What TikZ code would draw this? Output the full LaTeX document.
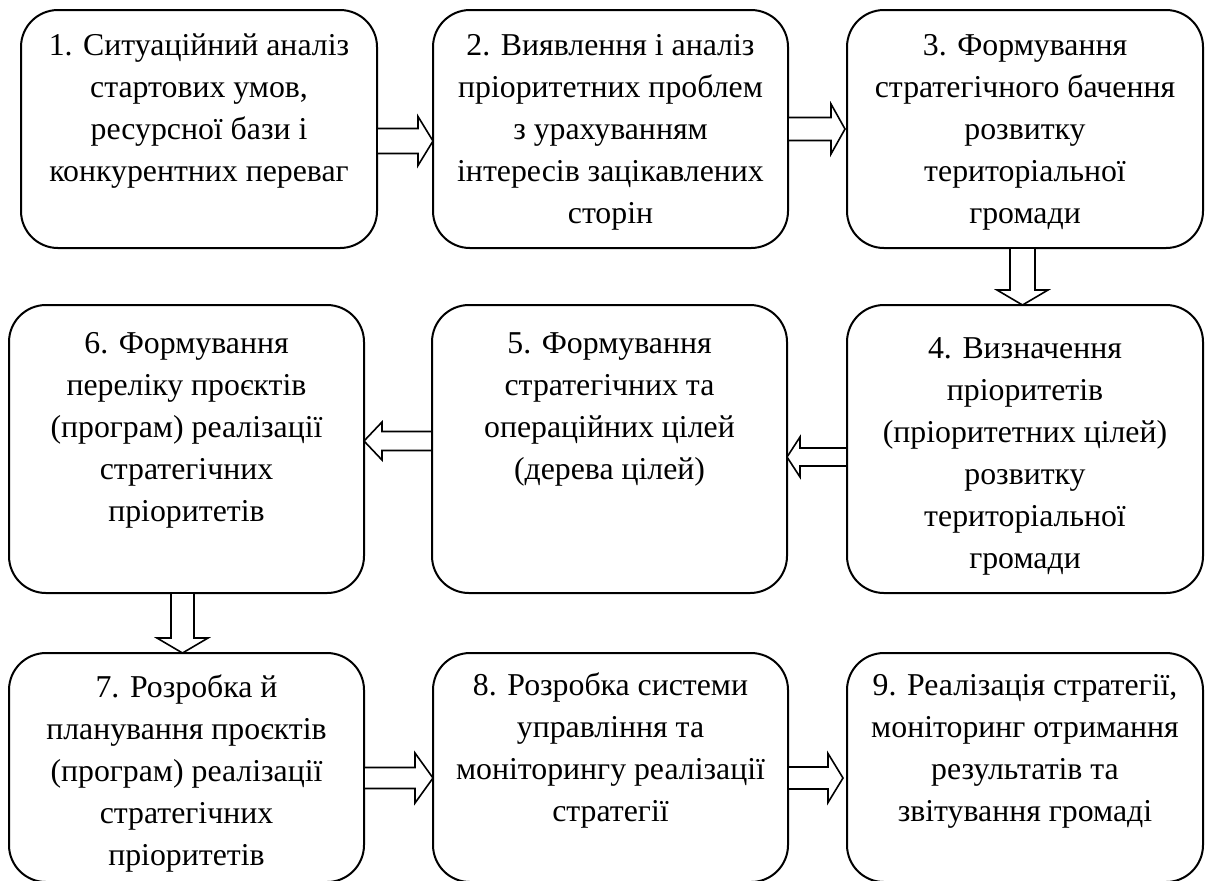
\documentclass[tikz,border=0pt]{standalone}
\usepackage{fontspec}
\setmainfont{Liberation Serif}
\usetikzlibrary{calc}
\newcommand{\boxtext}[4]{\parbox[c][#2][t]{#1}{\centering\fontsize{15.9pt}{21pt}\selectfont\rule{0pt}{#3}#4}}
\newcommand{\blockarr}[5]{%
  \coordinate (ba) at #1;
  \coordinate (bb) at #2;
  \coordinate (bh) at ($(bb)!#5!(ba)$);
  \draw[blk] ($(ba)!#3!90:(bb)$) -- ($(bh)!#3!90:(bb)$) -- ($(bh)!#4!90:(bb)$) -- (bb)
    -- ($(bh)!#4!-90:(bb)$) -- ($(bh)!#3!-90:(bb)$) -- ($(ba)!#3!-90:(bb)$) -- cycle;
}
\begin{document}
\begin{tikzpicture}[x=0.5pt,y=-0.5pt,
  box/.style={draw, line width=1pt, rounded corners=18.5pt, inner sep=0pt, outer sep=0pt},
  blk/.style={draw, line width=0.8pt, fill=white, line join=miter}]
\useasboundingbox (0,0) rectangle (1208,880);
% row 1
\node[box] (b1) at (199,129) {\boxtext{178pt}{119pt}{22.5pt}{1. Ситуаційний аналіз\\стартових умов,\\ресурсної бази і\\конкурентних переваг}};
\node[box] (b2) at (610.5,129) {\boxtext{177.5pt}{119pt}{22.5pt}{2. Виявлення і аналіз\\пріоритетних проблем\\з урахуванням\\інтересів зацікавлених\\сторін}};
\node[box] (b3) at (1025,129) {\boxtext{178pt}{119pt}{22.5pt}{3. Формування\\стратегічного бачення\\розвитку\\територіальної\\громади}};
% row 2
\node[box] (b6) at (186.5,449) {\boxtext{177.5pt}{144pt}{24pt}{6. Формування\\переліку проєктів\\(програм) реалізації\\стратегічних\\пріоритетів}};
\node[box] (b5) at (609.5,449) {\boxtext{177.5pt}{144pt}{24pt}{5. Формування\\стратегічних та\\операційних цілей\\(дерева цілей)}};
\node[box] (b4) at (1025,449) {\boxtext{178pt}{144pt}{26.5pt}{4. Визначення\\пріоритетів\\(пріоритетних цілей)\\розвитку\\територіальної\\громади}};
% row 3
\node[box] (b7) at (186.5,767.5) {\boxtext{177.5pt}{114.5pt}{22pt}{7. Розробка й\\планування проєктів\\(програм) реалізації\\стратегічних\\пріоритетів}};
\node[box] (b8) at (610.5,767.5) {\boxtext{177.5pt}{114.5pt}{21pt}{8. Розробка системи\\управління та\\моніторингу реалізації\\стратегії}};
\node[box] (b9) at (1025,767.5) {\boxtext{178pt}{114.5pt}{21pt}{9. Реалізація стратегії,\\моніторинг отримання\\результатів та\\звітування громаді}};
% arrows
\blockarr{($(b1.east)+(0,12)$)}{($(b2.west)+(0,12)$)}{6.25pt}{12.25pt}{7.5pt}
\blockarr{($(b2.east)+(0,0)$)}{($(b3.west)+(-2,0)$)}{5.75pt}{12.5pt}{7pt}
\blockarr{($(b3.south)+(-2.5,0)$)}{($(b4.north)+(-2.5,0)$)}{6.25pt}{12.75pt}{7.5pt}
\blockarr{($(b4.west)+(0,8)$)}{($(b5.east)+(0,8)$)}{4.5pt}{10pt}{6.5pt}
\blockarr{($(b5.west)+(0,-8)$)}{($(b6.east)+(0,-8)$)}{4.75pt}{9.5pt}{9pt}
\blockarr{($(b6.south)+(-4,0)$)}{($(b7.north)+(-4,0)$)}{5.75pt}{12.75pt}{7.5pt}
\blockarr{($(b7.east)+(0,10.5)$)}{($(b8.west)+(0,10.5)$)}{5.25pt}{12.5pt}{9pt}
\blockarr{($(b8.east)+(0,10.5)$)}{($(b9.west)+(-4,10.5)$)}{5.5pt}{12.25pt}{7.5pt}
\end{tikzpicture}
\end{document}
